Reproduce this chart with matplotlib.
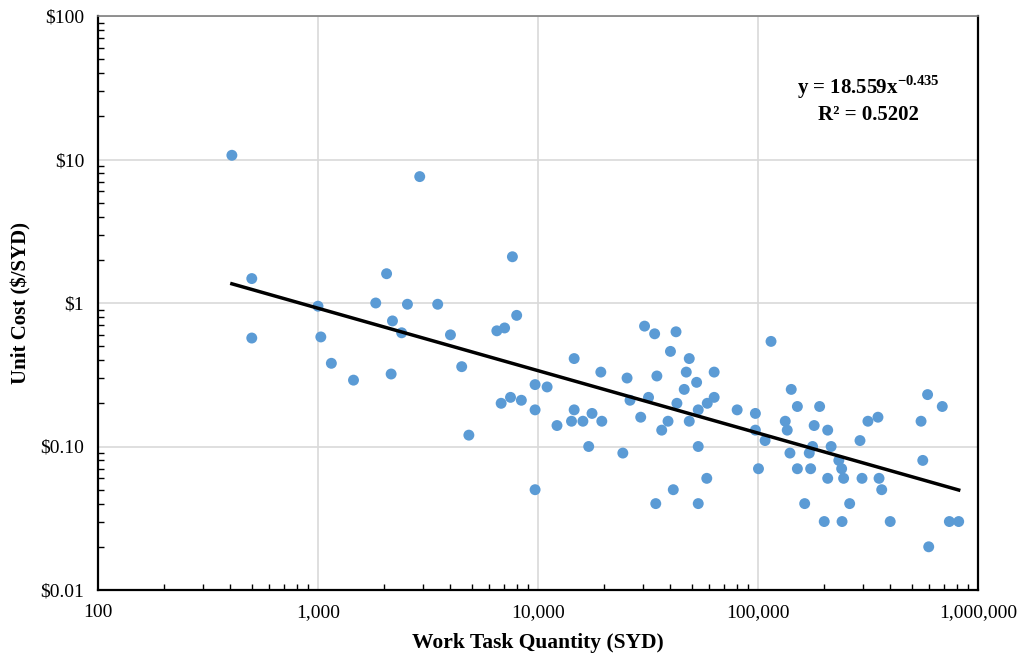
import numpy as np
import matplotlib
matplotlib.use("Agg")
from matplotlib import pyplot as plt
from matplotlib.ticker import FixedLocator, LogLocator, NullFormatter

plt.rcParams["font.family"] = ["Liberation Serif", "DejaVu Serif"]
plt.rcParams["mathtext.fontset"] = "custom"
plt.rcParams["mathtext.rm"] = "Liberation Serif"
plt.rcParams["mathtext.bf"] = "Liberation Serif:bold"

# work task quantity (SYD) and unit cost ($/SYD)
quantity = [
    406, 500, 500, 1000, 1030, 1150, 1450, 1830, 2050, 2150,
    2180, 2400, 2550, 2900, 3500, 4000, 4500, 4850, 6500, 6800,
    7050, 7500, 7650, 8000, 8400, 9700, 9700, 9700, 11000, 12200,
    14200, 14600, 14600, 16000, 17000, 17600, 19300, 19500, 24300, 25400,
    26200, 29300, 30500, 31800, 33900, 34300, 34700, 36500, 39000, 40000,
    41200, 42400, 42800, 46200, 47200, 48700, 48700, 52600, 53500, 53500,
    53500, 58500, 58800, 63200, 63200, 80400, 97300, 97300, 100500, 107700,
    114600, 133000, 135800, 139700, 141600, 151000, 151000, 163000, 171000, 173500,
    177000, 180000, 190600, 200000, 207400, 207400, 215000, 233000, 240000, 241000,
    245000, 261000, 290800, 297000, 316000, 351000, 355000, 365000, 399000, 551000,
    561000, 590000, 597000, 688000, 741000, 817000,
]
unit_cost = [
    10.7, 1.48, 0.57, 0.95, 0.58, 0.38, 0.29, 1.0, 1.6, 0.32,
    0.75, 0.62, 0.98, 7.6, 0.98, 0.60, 0.36, 0.12, 0.64, 0.20,
    0.67, 0.22, 2.1, 0.82, 0.21, 0.27, 0.18, 0.05, 0.26, 0.14,
    0.15, 0.41, 0.18, 0.15, 0.10, 0.17, 0.33, 0.15, 0.09, 0.30,
    0.21, 0.16, 0.69, 0.22, 0.61, 0.04, 0.31, 0.13, 0.15, 0.46,
    0.05, 0.63, 0.20, 0.25, 0.33, 0.41, 0.15, 0.28, 0.18, 0.10,
    0.04, 0.06, 0.20, 0.33, 0.22, 0.18, 0.17, 0.13, 0.07, 0.11,
    0.54, 0.15, 0.13, 0.09, 0.25, 0.19, 0.07, 0.04, 0.09, 0.07,
    0.10, 0.14, 0.19, 0.03, 0.13, 0.06, 0.10, 0.08, 0.07, 0.03,
    0.06, 0.04, 0.11, 0.06, 0.15, 0.16, 0.06, 0.05, 0.03, 0.15,
    0.08, 0.23, 0.02, 0.19, 0.03, 0.03,
]

# power trend line y = a * x^b
coef_a = 18.559
coef_b = -0.435
r_squared = 0.5202

x_ticks = [100, 1000, 10000, 100000, 1000000]
x_labels = ["100", "1,000", "10,000", "100,000", "1,000,000"]
y_ticks = [0.01, 0.1, 1, 10, 100]
y_labels = ["$0.01", "$0.10", "$1", "$10", "$100"]

fig = plt.figure(figsize=(10.23, 6.58), dpi=100)
ax = fig.add_axes([98 / 1023, 1 - 590 / 658, 880 / 1023, 574 / 658])

ax.scatter(quantity, unit_cost, s=62, color="#5B9BD5", edgecolors="none", zorder=3)

x_fit = np.array([min(quantity), max(quantity)])
ax.plot(x_fit, coef_a * x_fit ** coef_b, color="black", linewidth=2.5, zorder=4)

ax.set_xscale("log")
ax.set_yscale("log")
ax.set_xlim(100, 1000000)
ax.set_ylim(0.01, 100)

ax.xaxis.set_major_locator(FixedLocator(x_ticks))
ax.set_xticklabels(x_labels)
ax.yaxis.set_major_locator(FixedLocator(y_ticks))
ax.set_yticklabels(y_labels)
ax.xaxis.set_minor_locator(LogLocator(base=10, subs=np.arange(2, 10)))
ax.yaxis.set_minor_locator(LogLocator(base=10, subs=np.arange(2, 10)))
ax.xaxis.set_minor_formatter(NullFormatter())
ax.yaxis.set_minor_formatter(NullFormatter())

ax.tick_params(axis="both", which="major", length=0, labelsize=14, pad=10)
ax.tick_params(axis="both", which="minor", direction="in", length=4, width=1)

ax.grid(True, which="major", color="#D9D9D9", linewidth=1.2, zorder=0)

for side in ["left", "bottom", "right"]:
    ax.spines[side].set_color("black")
    ax.spines[side].set_linewidth(1.6)
ax.spines["top"].set_color("#7F7F7F")
ax.spines["top"].set_linewidth(1.2)

ax.set_xlabel("Work Task Quantity (SYD)", fontsize=15.5, fontweight="bold", labelpad=9)
ax.set_ylabel("Unit Cost ($/SYD)", fontsize=15, fontweight="bold", labelpad=6)

eq_text = r"y = 18.559x$^{\mathbf{-0.435}}$" + "\n" + "R² = %.4f" % r_squared
ax.text(0.876, 0.855, eq_text, transform=ax.transAxes, ha="center", va="center",
        fontsize=15, fontweight="bold", linespacing=1.25)

fig.savefig("out.png", dpi=100)
